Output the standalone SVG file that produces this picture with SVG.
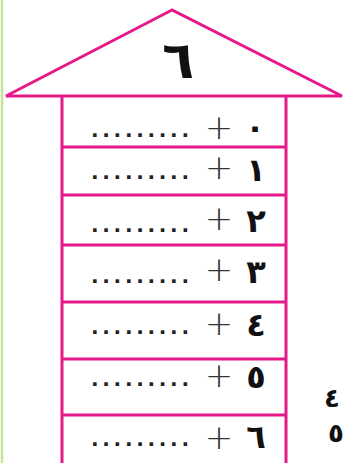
<svg xmlns="http://www.w3.org/2000/svg" width="347" height="463" viewBox="0 0 347 463">
<style>
.ln{stroke:#e5198a;stroke-width:3;fill:none}
.dots{font-family:"DejaVu Sans",sans-serif;font-size:20px;font-weight:bold;fill:#222;letter-spacing:3.7px}
.plus{font-family:"DejaVu Sans",sans-serif;font-size:34px;font-weight:200;fill:#333;text-anchor:middle}
.dg{font-family:"DejaVu Sans","Noto Sans",sans-serif;font-size:32px;font-weight:bold;fill:#111;text-anchor:middle}
.sd{font-family:"DejaVu Sans","Noto Sans",sans-serif;font-size:26px;font-weight:bold;fill:#111;text-anchor:middle}
</style>
<rect width="347" height="463" fill="#fff"/>
<line x1="2" y1="0" x2="2" y2="463" stroke="#c8e296" stroke-width="2.5"/>
<g id="roof">
<polygon class="ln" points="172,10 6,96 342,96"/>
<text class="dg" x="178" y="78" style="font-size:52px">٦</text>
</g>
<g id="frame">
<line class="ln" x1="62" y1="96" x2="62" y2="463"/>
<line class="ln" x1="286" y1="96" x2="286" y2="463"/>
</g>
<g id="connectors">
<line class="ln" x1="62" y1="147" x2="286" y2="147"/>
<line class="ln" x1="62" y1="195" x2="286" y2="195"/>
<line class="ln" x1="62" y1="245" x2="286" y2="245"/>
<line class="ln" x1="62" y1="302" x2="286" y2="302"/>
<line class="ln" x1="62" y1="359" x2="286" y2="359"/>
<line class="ln" x1="62" y1="415" x2="286" y2="415"/>
</g>
<g id="row0"><text class="dots" x="91" y="137">.........</text><text class="plus" x="219" y="139">+</text><text class="dg" x="255" y="138">٠</text></g>
<g id="row1"><text class="dots" x="91" y="179">.........</text><text class="plus" x="219" y="179">+</text><text class="dg" x="256" y="181">١</text></g>
<g id="row2"><text class="dots" x="91" y="232">.........</text><text class="plus" x="219" y="230">+</text><text class="dg" x="256" y="232">٢</text></g>
<g id="row3"><text class="dots" x="91" y="283">.........</text><text class="plus" x="219" y="281">+</text><text class="dg" x="256" y="283">٣</text></g>
<g id="row4"><text class="dots" x="91" y="334">.........</text><text class="plus" x="219" y="335">+</text><text class="dg" x="256" y="336">٤</text></g>
<g id="row5"><text class="dots" x="91" y="386">.........</text><text class="plus" x="219" y="387">+</text><text class="dg" x="256" y="388">٥</text></g>
<g id="row6"><text class="dots" x="91" y="446">.........</text><text class="plus" x="219" y="449">+</text><text class="dg" x="256" y="448">٦</text></g>
<g id="side">
<text class="sd" x="332" y="407">٤</text>
<text class="sd" x="336" y="442">٥</text>
</g>
</svg>
